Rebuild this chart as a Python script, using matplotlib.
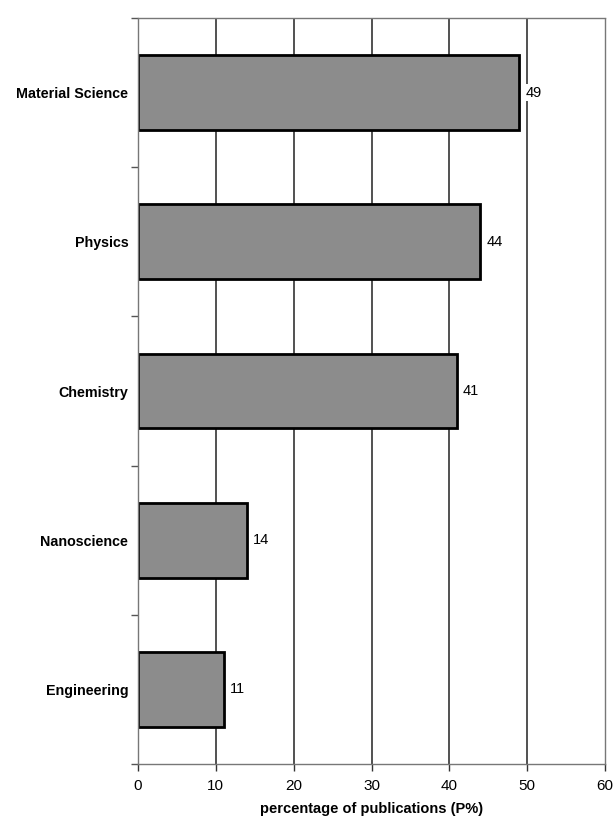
import matplotlib
matplotlib.use("Agg")
import matplotlib.pyplot as plt
import numpy as np

categories = ["Material Science", "Physics", "Chemistry", "Nanoscience", "Engineering"]
values = [49, 44, 41, 14, 11]
x_ticks = [0, 10, 20, 30, 40, 50, 60]

plt.rcParams["font.family"] = ["Liberation Sans", "DejaVu Sans"]

fig = plt.figure(figsize=(6.13, 8.18), dpi=100)
ax = fig.add_axes([0.2251, 0.066, 0.7619, 0.912])

n = len(categories)
ypos = np.arange(n)[::-1]  # top-to-bottom order
ax.set_ylim(-0.5, n - 0.5)
ax.set_xlim(0, 60)

# vertical gridlines
for x in x_ticks[1:-1]:
    ax.axvline(x, color="#333333", lw=1.2, zorder=1)

ax.barh(ypos, values, height=0.5, color="#8c8c8c", edgecolor="black",
        linewidth=2, zorder=2)

for y, v in zip(ypos, values):
    ax.text(v + 0.75, y, f"{v}", va="center", ha="left", fontsize=10.5,
            zorder=3, bbox=dict(facecolor="white", edgecolor="none", pad=1))

ax.set_yticks(ypos)
ax.set_yticklabels(categories, fontsize=10.3, fontweight="bold")
ax.tick_params(axis="y", length=0, pad=7)
# minor ticks at category boundaries
ax.set_yticks(np.arange(-0.5, n, 1.0), minor=True)
ax.tick_params(axis="y", which="minor", length=5, width=1, color="#555555")

ax.set_xticks(x_ticks)
ax.set_xticklabels([str(t) for t in x_ticks], fontsize=11)
ax.tick_params(axis="x", length=5, width=1, color="#333333", pad=6)
ax.set_xlabel("percentage of publications (P%)", fontsize=10.5,
              fontweight="bold", labelpad=6)

for s in ax.spines.values():
    s.set_linestyle((0, (1, 1)))
    s.set_color("#777777")
    s.set_linewidth(1.0)

fig.savefig("out.png", dpi=100)
